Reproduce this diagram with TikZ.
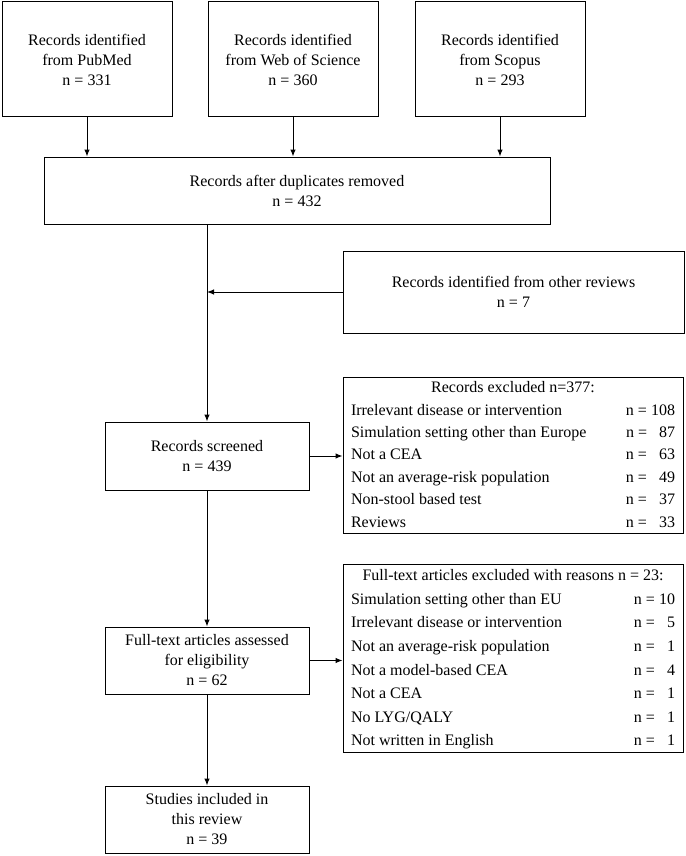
\documentclass[tikz,border=0pt]{standalone}
\usepackage{fontspec}
\usepackage{array}
\setmainfont{Liberation Serif}
\usetikzlibrary{arrows.meta}

\begin{document}
\begin{tikzpicture}[
  x=1pt, y=-1pt,
  font=\fontsize{16}{20}\selectfont,
  >={Latex[length=7pt,width=5.5pt]},
  box/.style={draw, line width=1pt, align=center, inner sep=0pt},
  xbox/.style={draw, line width=1pt, inner xsep=8pt, inner ysep=0pt},
]

\useasboundingbox (0,0) rectangle (685,856);

% sources
\node [box, minimum width=170pt, minimum height=115pt] (pubmed) at (87,59.5) {Records identified\\from PubMed\\n = 331};
\node [box, minimum width=170pt, minimum height=115pt] (wos) at (293,59.5) {Records identified\\from Web of Science\\n = 360};
\node [box, minimum width=170pt, minimum height=115pt] (scopus) at (500,59.5) {Records identified\\from Scopus\\n = 293};

\node [box, minimum width=506pt, minimum height=67pt] (dup) at (297,190.5) {Records after duplicates removed\\n = 432};
\node [box, minimum width=341pt, minimum height=82pt] (other) at (513.5,292) {Records identified from other reviews\\n = 7};

% main column
\node [box, minimum width=204pt, minimum height=68pt] (scr) at (207,456) {Records screened\\n = 439};
\node [box, minimum width=204pt, minimum height=67pt] (fta) at (207,660.5) {Full-text articles assessed\\for eligibility\\n = 62};
\node [box, minimum width=204pt, minimum height=67pt] (incl) at (207,819.5) {Studies included in\\this review\\n = 39};

% exclusions
\node [xbox] (excl) at (513,455.5) {\fontsize{16}{16}\selectfont\renewcommand{\arraystretch}{1.4}%
\begin{tabular}{@{}p{268pt}@{}>{\raggedleft\arraybackslash}p{56pt}@{}}
\multicolumn{2}{c}{Records excluded n=377:}\\
Irrelevant disease or intervention & n = 108\\
Simulation setting other than Europe & n = \hphantom{1}87\\
Not a CEA & n = \hphantom{1}63\\
Not an average-risk population & n = \hphantom{1}49\\
Non-stool based test & n = \hphantom{1}37\\
Reviews & n = \hphantom{1}33\\
\end{tabular}};
\node [xbox] (ftx) at (513,658.5) {\fontsize{16}{16}\selectfont\renewcommand{\arraystretch}{1.475}%
\begin{tabular}{@{}p{268pt}@{}>{\raggedleft\arraybackslash}p{56pt}@{}}
\multicolumn{2}{c}{Full-text articles excluded with reasons n = 23:}\\
Simulation setting other than EU & n = 10\\
Irrelevant disease or intervention & n = \hphantom{1}5\\
Not an average-risk population & n = \hphantom{1}1\\
Not a model-based CEA & n = \hphantom{1}4\\
Not a CEA & n = \hphantom{1}1\\
No LYG/QALY & n = \hphantom{1}1\\
Not written in English & n = \hphantom{1}1\\
\end{tabular}};

\draw [line width=1pt, ->] (pubmed.south) -- (pubmed.south |- dup.north);
\draw [line width=1pt, ->] (wos.south) -- (wos.south |- dup.north);
\draw [line width=1pt, ->] (scopus.south) -- (scopus.south |- dup.north);

\draw [line width=1pt, ->] (scr.north |- dup.south) -- (scr.north);
\draw [line width=1pt, ->] (other.west) -- (other.west -| scr.north);
\draw [line width=1pt, ->] (scr.east) -- (scr.east -| excl.west);
\draw [line width=1pt, ->] (scr.south) -- (fta.north);
\draw [line width=1pt, ->] (fta.east) -- (fta.east -| ftx.west);
\draw [line width=1pt, ->] (fta.south) -- (incl.north);

\end{tikzpicture}
\end{document}
